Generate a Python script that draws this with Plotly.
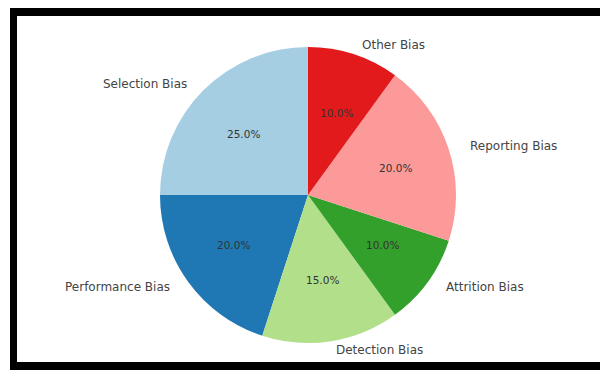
import math
import plotly.graph_objects as go

labels = ["Selection Bias", "Performance Bias", "Detection Bias",
          "Attrition Bias", "Reporting Bias", "Other Bias"]
values = [25, 20, 15, 10, 20, 10]
colors = ["#a6cee3", "#1f78b4", "#b2df8a", "#33a02c", "#fb9a99", "#e31a1c"]

W, H = 600, 370
CX, CY = 308, 195          # pie centre in pixels (from top-left)
R = 148                    # drawn pie radius in pixels
RX, RY = 153, 143          # label placement radii

fig = go.Figure()
fig.add_trace(go.Pie(
    labels=labels, values=values, sort=False,
    direction="counterclockwise", rotation=-90,
    marker=dict(colors=colors, line=dict(width=0)),
    textinfo="none", showlegend=False,
    domain=dict(x=[(CX - R) / W, (CX + R) / W],
                y=[(H - CY - R) / H, (H - CY + R) / H]),
))

total = sum(values)
start = 90.0
annotations = []
for lab, v in zip(labels, values):
    span = 360.0 * v / total
    mid = math.radians(start + span / 2)
    start += span
    c, s = math.cos(mid), math.sin(mid)
    # outer label at 1.1 r
    lx = CX + 1.1 * RX * c
    ly = CY - 1.1 * RY * s
    annotations.append(dict(
        x=lx / W, y=1 - ly / H, xref="paper", yref="paper",
        text=lab, showarrow=False,
        xanchor="left" if c > 0 else "right", yanchor="middle",
        font=dict(family="DejaVu Sans", size=12, color="#444444"),
    ))
    # percentage at 0.6 r
    px = CX + 0.6 * RX * c
    py = CY - 0.6 * RY * s
    annotations.append(dict(
        x=px / W, y=1 - py / H, xref="paper", yref="paper",
        text=f"{100.0 * v / total:.1f}%", showarrow=False,
        xanchor="center", yanchor="middle",
        font=dict(family="DejaVu Sans", size=10.5, color="#333333"),
    ))

shapes = [
    # top band
    dict(type="rect", xref="paper", yref="paper", x0=10 / W, x1=1,
         y0=1 - 16 / H, y1=1 - 8 / H, fillcolor="black", line=dict(width=0), layer="above"),
    # left band
    dict(type="rect", xref="paper", yref="paper", x0=10 / W, x1=17 / W,
         y0=0, y1=1 - 8 / H, fillcolor="black", line=dict(width=0), layer="above"),
    # bottom band
    dict(type="rect", xref="paper", yref="paper", x0=10 / W, x1=1,
         y0=0, y1=8 / H, fillcolor="black", line=dict(width=0), layer="above"),
]

fig.update_layout(
    width=W, height=H, margin=dict(l=0, r=0, t=0, b=0),
    paper_bgcolor="white", plot_bgcolor="white",
    annotations=annotations, shapes=shapes,
    font=dict(family="DejaVu Sans"),
)

fig.write_html("out.html")
